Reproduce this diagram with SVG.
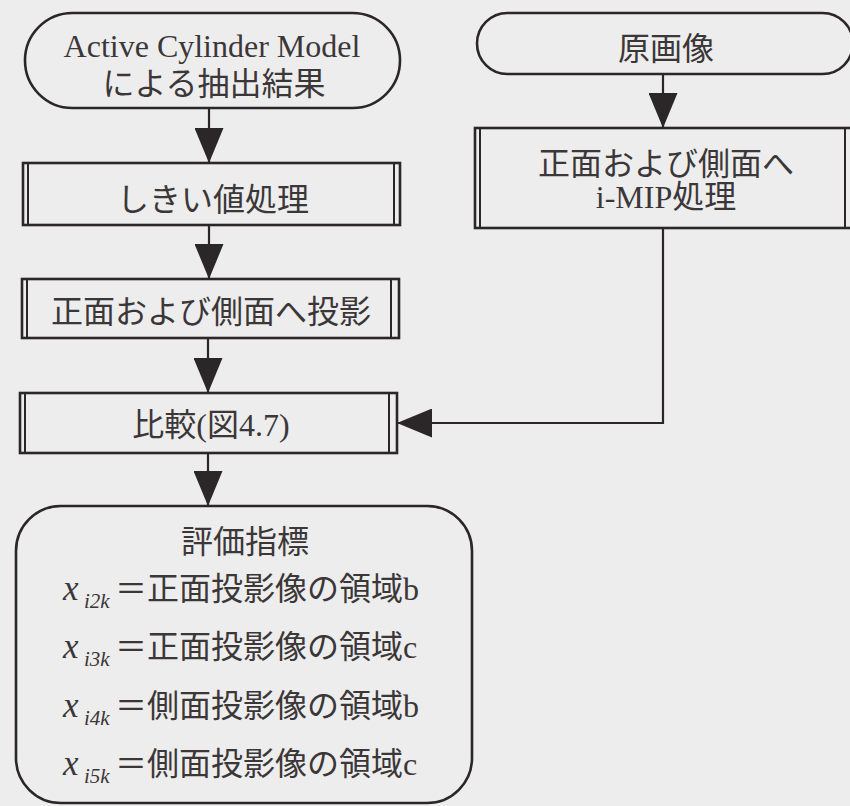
<svg xmlns="http://www.w3.org/2000/svg" width="850" height="806" viewBox="0 0 850 806">
<defs>
<style>
.shape{fill:none;stroke:#2b2627;stroke-width:2.6}
.bar{fill:none;stroke:#2b2627;stroke-width:2}
.conn{fill:none;stroke:#2b2627;stroke-width:2.2}
.t{font-family:"Liberation Serif","Noto Sans CJK JP",serif;font-size:32px;fill:#3b3738;text-anchor:middle}
.tl{font-family:"Liberation Serif","Noto Sans CJK JP",serif;font-size:32px;fill:#3b3738}
.it{font-style:italic}
</style>
<marker id="arr" viewBox="0 0 35 29" refX="35" refY="14.5" markerWidth="35" markerHeight="29" markerUnits="userSpaceOnUse" orient="auto">
<path d="M0,0 L35,14.5 L0,29 Z" fill="#2b2627"/>
</marker>
</defs>
<rect x="0" y="0" width="850" height="806" fill="#ededed"/>
<g id="connectors">
<path class="conn" d="M209,108 V163" marker-end="url(#arr)"/>
<path class="conn" d="M209,225 V279" marker-end="url(#arr)"/>
<path class="conn" d="M208,338 V393" marker-end="url(#arr)"/>
<path class="conn" d="M208,453 V506" marker-end="url(#arr)"/>
<path class="conn" d="M663,74 V128" marker-end="url(#arr)"/>
<path class="conn" d="M663,228 V423 H397" marker-end="url(#arr)"/>
</g>
<g id="n1">
<rect class="shape" x="25" y="13" width="375" height="95" rx="47.5" ry="47.5"/>
<text class="t" x="212" y="57">Active Cylinder Model</text>
<text class="t" x="214" y="95">による抽出結果</text>
</g>
<g id="n2">
<rect class="shape" x="477" y="13" width="376" height="61" rx="30.5" ry="30.5"/>
<text class="t" x="666" y="60">原画像</text>
</g>
<g id="n3">
<rect class="shape" x="475" y="128" width="377" height="100"/>
<line class="bar" x1="480" y1="128" x2="480" y2="228"/>
<line class="bar" x1="845" y1="128" x2="845" y2="228"/>
<text class="t" x="666" y="175">正面および側面へ</text>
<text class="t" x="666" y="208">i-MIP処理</text>
</g>
<g id="n4">
<rect class="shape" x="23" y="163" width="377" height="62"/>
<line class="bar" x1="28" y1="163" x2="28" y2="225"/>
<line class="bar" x1="394" y1="163" x2="394" y2="225"/>
<text class="t" x="213" y="211">しきい値処理</text>
</g>
<g id="n5">
<rect class="shape" x="22" y="279" width="377" height="59"/>
<line class="bar" x1="27" y1="279" x2="27" y2="338"/>
<line class="bar" x1="391" y1="279" x2="391" y2="338"/>
<text class="t" x="211" y="323">正面および側面へ投影</text>
</g>
<g id="n6">
<rect class="shape" x="20" y="393" width="377" height="60"/>
<line class="bar" x1="25" y1="393" x2="25" y2="453"/>
<line class="bar" x1="389" y1="393" x2="389" y2="453"/>
<text class="t" x="211" y="436">比較(図4.7)</text>
</g>
<g id="n7">
<rect class="shape" x="16" y="506" width="456" height="297" rx="45" ry="45"/>
<text class="t" x="245" y="553">評価指標</text>
<text class="tl" y="600"><tspan class="it" x="63" font-size="35">x</tspan><tspan class="it" x="84" dy="8" font-size="21">i2k</tspan><tspan x="115" dy="-8">＝正面投影像の領域b</tspan></text>
<text class="tl" y="658"><tspan class="it" x="63" font-size="35">x</tspan><tspan class="it" x="84" dy="8" font-size="21">i3k</tspan><tspan x="115" dy="-8">＝正面投影像の領域c</tspan></text>
<text class="tl" y="717"><tspan class="it" x="63" font-size="35">x</tspan><tspan class="it" x="84" dy="8" font-size="21">i4k</tspan><tspan x="115" dy="-8">＝側面投影像の領域b</tspan></text>
<text class="tl" y="775"><tspan class="it" x="63" font-size="35">x</tspan><tspan class="it" x="84" dy="8" font-size="21">i5k</tspan><tspan x="115" dy="-8">＝側面投影像の領域c</tspan></text>
</g>
</svg>
